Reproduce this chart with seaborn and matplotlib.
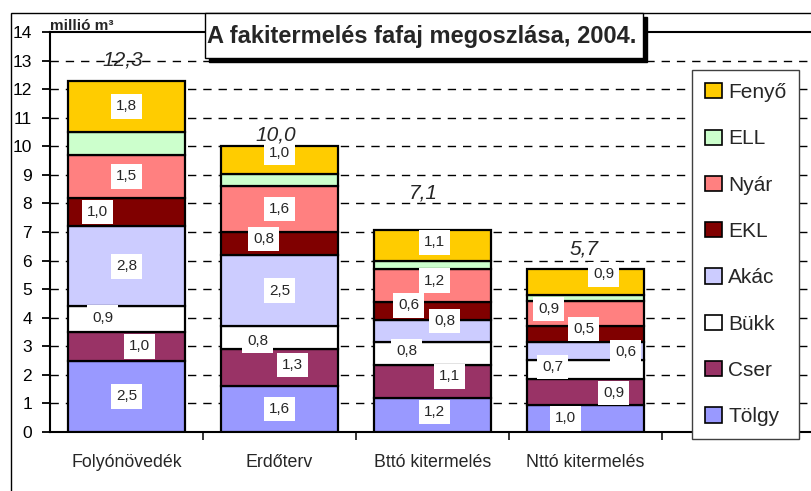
import pandas as pd
import seaborn as sns
import matplotlib.pyplot as plt
from matplotlib.patches import Rectangle, Patch

# data (million m3)
categories = ['Folyónövedék', 'Erdőterv', 'Bttó kitermelés', 'Nttó kitermelés']
species = ['Tölgy', 'Cser', 'Bükk', 'Akác', 'EKL', 'Nyár', 'ELL', 'Fenyő']
tolgy = [2.5, 1.6, 1.2, 0.96]
cser = [1.0, 1.3, 1.13, 0.9]
bukk = [0.9, 0.8, 0.82, 0.66]
akac = [2.8, 2.5, 0.77, 0.64]
ekl = [1.0, 0.8, 0.63, 0.54]
nyar = [1.5, 1.6, 1.17, 0.9]
ell = [0.8, 0.42, 0.25, 0.2]
fenyo = [1.8, 1.0, 1.1, 0.9]
values = dict(zip(species, [tolgy, cser, bukk, akac, ekl, nyar, ell, fenyo]))

colors = {'Tölgy': '#9999FF', 'Cser': '#993366', 'Bükk': '#FFFFFF',
          'Akác': '#CCCCFF', 'EKL': '#800000', 'Nyár': '#FF8080',
          'ELL': '#CCFFCC', 'Fenyő': '#FFCC00'}

# hand-moved data label offsets (dx in pixels, dy in axis units); ELL unlabeled
label_dx = {'Tölgy': [0, 0, 2, -20], 'Cser': [13, 13, 17, 28],
            'Bükk': [-24, -22, -26, -33], 'Akác': [0, 0, 12, 40],
            'EKL': [-29, -16, -24, -2], 'Nyár': [0, 0, 2, -37],
            'Fenyő': [0, 0, 2, 18]}
label_dy = {'Tölgy': [0, 0, 0.1, 0], 'Cser': [0, 0.1, 0.18, -0.05],
            'Bükk': [0.05, -0.12, 0.09, 0.09], 'Akác': [0, 0, 0.35, -0.04],
            'EKL': [0, 0.15, 0.2, 0.17], 'Nyár': [0, 0, 0.16, 0.15],
            'Fenyő': [0, 0.25, 0.12, 0.27]}
total_dx = [-4, -4, -9, -1]
total_dy = [0.72, 0.38, 1.3, 0.7]

W, H = 811, 491


def fx(x):
    return x / W


def fy(y):
    return 1 - y / H


def fmt(v):
    return f'{v:.1f}'.replace('.', ',')


rows = []
for sp in species:
    for cat, v in zip(categories, values[sp]):
        rows.append({'cat': cat, 'fafaj': sp, 'value': v})
df = pd.DataFrame(rows)

sns.set_style('white')
plt.rcParams['font.family'] = ['Liberation Sans', 'DejaVu Sans']

fig = plt.figure(figsize=(W / 100, H / 100), dpi=100)
ax = fig.add_axes([fx(50), fy(432), fx(815 - 50), (432 - 32) / H])

sns.histplot(data=df, x='cat', weights='value', hue='fafaj',
             hue_order=species[::-1], palette=colors, multiple='stack',
             discrete=True, shrink=0.765, alpha=1, edgecolor='black',
             linewidth=1.6, legend=False, ax=ax, zorder=3)

ax.set_xlim(-0.5, 4.5)
ax.set_ylim(0, 14)
ax.set_xlabel('')
ax.set_ylabel('')
ax.set_yticks(range(15))
ax.tick_params(axis='y', labelsize=12.5, length=6, width=1.3, direction='out',
               left=True, pad=7, colors='black')
ax.set_xticks(range(4))
ax.set_xticklabels(categories, fontsize=12.8)
ax.set_xticks([0.5, 1.5, 2.5, 3.5], minor=True)
ax.tick_params(axis='x', which='major', length=0, pad=16)
ax.tick_params(axis='x', which='minor', length=6, width=1.3, direction='out',
               bottom=True)
for side in ['left', 'bottom', 'top']:
    ax.spines[side].set_visible(True)
    ax.spines[side].set_color('black')
    ax.spines[side].set_linewidth(1.5)
ax.spines['right'].set_visible(False)
ax.grid(False)
for yv in range(1, 14):
    ax.axhline(yv, color='black', linewidth=1, linestyle=(0, (6, 5)), zorder=1)

# data labels
px_per_cat = (815 - 50) / 5
bottom = [0.0] * len(categories)
for sp in species:
    for i, v in enumerate(values[sp]):
        if sp in label_dx:
            ax.text(i + label_dx[sp][i] / px_per_cat,
                    bottom[i] + v / 2 + label_dy[sp][i], fmt(v),
                    ha='center', va='center', fontsize=11, zorder=5,
                    bbox=dict(boxstyle='square,pad=0.35', facecolor='white',
                              edgecolor='none'))
        bottom[i] += v

for i, tot in enumerate(bottom):
    ax.text(i + total_dx[i] / px_per_cat, tot + total_dy[i], fmt(tot),
            ha='center', va='center', fontsize=15, style='italic', zorder=5)

# outer chart border
fig.patches.append(Rectangle((fx(11), fy(H + 20)), fx(W + 20 - 11), (H + 20 - 13) / H,
                             transform=fig.transFigure, fill=False,
                             edgecolor='black', linewidth=1))

# title box with shadow
fig.patches.append(Rectangle((fx(209), fy(62)), fx(438), 45 / H,
                             transform=fig.transFigure, facecolor='black',
                             edgecolor='black', zorder=6))
fig.patches.append(Rectangle((fx(205), fy(58)), fx(438), 45 / H,
                             transform=fig.transFigure, facecolor='white',
                             edgecolor='black', linewidth=1, zorder=7))
fig.text(fx(422), fy(36), 'A fakitermelés fafaj megoszlása, 2004.',
         ha='center', va='center', fontsize=17, fontweight='bold', zorder=8)

fig.text(fx(50), fy(26), 'millió m³', ha='left', va='center',
         fontsize=11, fontweight='bold')

handles = [Patch(facecolor=colors[sp], edgecolor='black', linewidth=1.2)
           for sp in species[::-1]]
leg = fig.legend(handles, species[::-1], loc='upper left',
                 bbox_to_anchor=(fx(692), fy(70)), borderaxespad=0,
                 fontsize=15, frameon=True, fancybox=False, framealpha=1,
                 edgecolor='#404040', handlelength=0.8, handleheight=0.75,
                 handletextpad=0.3, labelspacing=1.31, borderpad=0.63)
leg.get_frame().set_linewidth(1)

fig.savefig('out.png', dpi=100)
